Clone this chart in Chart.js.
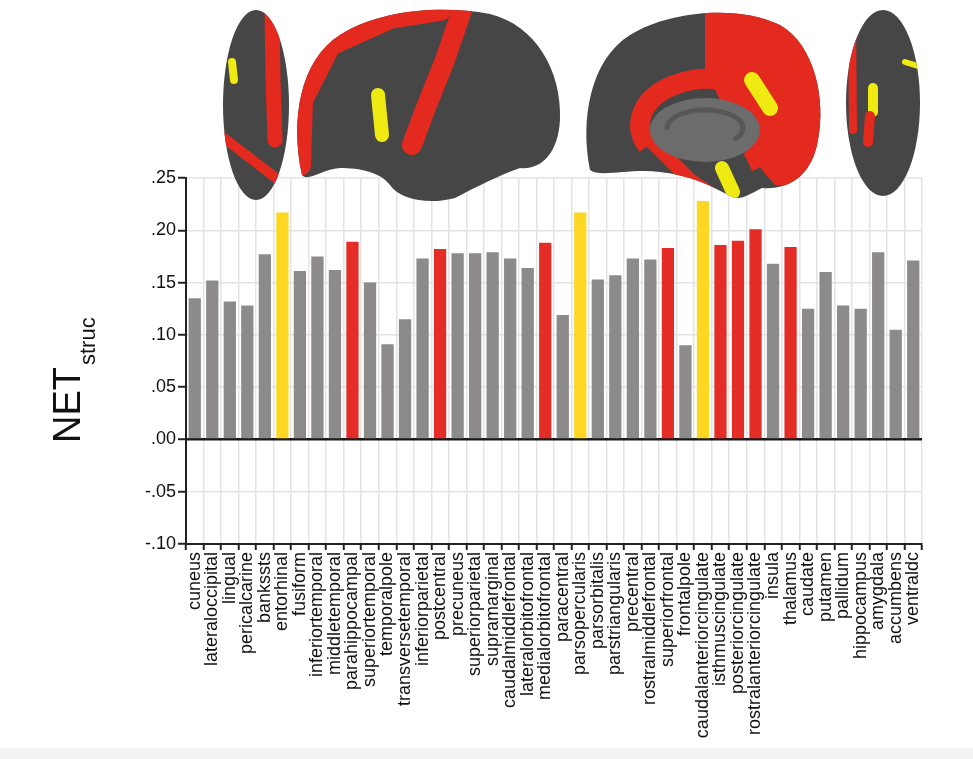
<!DOCTYPE html>
<html>
<head>
<meta charset="utf-8">
<script src="https://cdn.jsdelivr.net/npm/chart.js@4"></script>
<style>
  html, body { margin: 0; padding: 0; background: #fff; }
  #wrap { position: relative; width: 973px; height: 759px; }
  #strip { position: absolute; left: 0; bottom: 0; width: 973px; height: 11px; background: #f3f3f3; }
</style>
</head>
<body>
<div id="wrap">
  <canvas id="netChart" width="973" height="759"></canvas>
  <div id="strip"></div>
</div>
<script>
// regions, in the order of the figure
const regions = [
  'cuneus', 'lateraloccipital', 'lingual', 'pericalcarine', 'bankssts', 'entorhinal',
  'fusiform', 'inferiortemporal', 'middletemporal', 'parahippocampal', 'superiortemporal',
  'temporalpole', 'transversetemporal', 'inferiorparietal', 'postcentral', 'precuneus',
  'superiorparietal', 'supramarginal', 'caudalmiddlefrontal', 'lateralorbitofrontal',
  'medialorbitofrontal', 'paracentral', 'parsopercularis', 'parsorbitalis', 'parstriangularis',
  'precentral', 'rostralmiddlefrontal', 'superiorfrontal', 'frontalpole',
  'caudalanteriorcingulate', 'isthmuscingulate', 'posteriorcingulate',
  'rostralanteriorcingulate', 'insula', 'thalamus', 'caudate', 'putamen', 'pallidum',
  'hippocampus', 'amygdala', 'accumbens', 'ventraldc'
];

// NET_struc per region
const netValues = [
  0.135, 0.152, 0.132, 0.128, 0.177, 0.217,
  0.161, 0.175, 0.162, 0.189, 0.150,
  0.091, 0.115, 0.173, 0.182, 0.178,
  0.178, 0.179, 0.173, 0.164,
  0.188, 0.119, 0.217, 0.153, 0.157,
  0.173, 0.172, 0.183, 0.090,
  0.228, 0.186, 0.190,
  0.201, 0.168, 0.184, 0.125, 0.160, 0.128,
  0.125, 0.179, 0.105, 0.171
];

// highlight group: g = grey, r = red, y = yellow
const groups = [
  'g', 'g', 'g', 'g', 'g', 'y',
  'g', 'g', 'g', 'r', 'g',
  'g', 'g', 'g', 'r', 'g',
  'g', 'g', 'g', 'g',
  'r', 'g', 'y', 'g', 'g',
  'g', 'g', 'r', 'g',
  'y', 'r', 'r',
  'r', 'g', 'r', 'g', 'g', 'g',
  'g', 'g', 'g', 'g'
];

const yTicks = [-0.10, -0.05, 0.00, 0.05, 0.10, 0.15, 0.20, 0.25];

const groupColors = { g: '#8c8a8a', r: '#e52d27', y: '#fdd722' };

const fontFamily = '"Liberation Sans", Arial, sans-serif';

// y axis title, drawn rotated like the figure
const titlePlugin = {
  id: 'netTitle',
  afterDraw(chart) {
    const ctx = chart.ctx;
    ctx.save();
    ctx.translate(80, 443);
    ctx.rotate(-Math.PI / 2);
    ctx.fillStyle = '#111';
    ctx.textBaseline = 'alphabetic';
    ctx.font = '38px ' + fontFamily;
    ctx.fillText('NET', 0, 0);
    const w = ctx.measureText('NET').width;
    ctx.font = '22px ' + fontFamily;
    ctx.fillText('struc', w + 2, 15);
    ctx.restore();
  }
};

// rough brain renderings above the plot
function brainShape(ctx, kind) {
  ctx.beginPath();
  if (kind === 'top') {
    ctx.ellipse(256, 105, 33, 95, 0, 0, Math.PI * 2);
  } else if (kind === 'back') {
    ctx.ellipse(883, 103, 37, 93, 0, 0, Math.PI * 2);
  } else if (kind === 'lateral') {
    ctx.moveTo(302, 175);
    ctx.bezierCurveTo(290, 120, 300, 60, 340, 35);
    ctx.bezierCurveTo(380, 10, 440, 5, 490, 14);
    ctx.bezierCurveTo(535, 25, 562, 70, 560, 120);
    ctx.bezierCurveTo(558, 155, 540, 170, 520, 168);
    ctx.bezierCurveTo(500, 175, 480, 185, 455, 198);
    ctx.bezierCurveTo(430, 205, 400, 200, 390, 185);
    ctx.bezierCurveTo(380, 172, 360, 168, 340, 168);
    ctx.bezierCurveTo(320, 170, 308, 182, 302, 175);
    ctx.closePath();
  } else {
    ctx.moveTo(590, 170);
    ctx.bezierCurveTo(580, 120, 590, 60, 630, 35);
    ctx.bezierCurveTo(670, 10, 740, 5, 780, 25);
    ctx.bezierCurveTo(815, 45, 826, 100, 818, 140);
    ctx.bezierCurveTo(812, 175, 790, 190, 762, 188);
    ctx.bezierCurveTo(748, 195, 742, 200, 732, 197);
    ctx.bezierCurveTo(712, 186, 690, 175, 660, 172);
    ctx.bezierCurveTo(630, 168, 600, 178, 590, 170);
    ctx.closePath();
  }
}

function band(ctx, color, width, pts) {
  ctx.beginPath();
  ctx.moveTo(pts[0][0], pts[0][1]);
  for (let i = 1; i < pts.length; i++) ctx.lineTo(pts[i][0], pts[i][1]);
  ctx.strokeStyle = color;
  ctx.lineWidth = width;
  ctx.lineCap = 'round';
  ctx.lineJoin = 'round';
  ctx.stroke();
}

const brainPlugin = {
  id: 'brains',
  afterDraw(chart) {
    const ctx = chart.ctx;
    const dark = '#464646', red = '#e4291f', yel = '#eeea12';

    // top view
    ctx.save();
    brainShape(ctx, 'top');
    ctx.fillStyle = dark; ctx.fill(); ctx.clip();
    band(ctx, red, 15, [[272, 12], [273, 80], [275, 140]]);
    band(ctx, red, 10, [[220, 135], [250, 158], [285, 185]]);
    band(ctx, yel, 8, [[232, 62], [234, 80]]);
    ctx.restore();

    // lateral view
    ctx.save();
    brainShape(ctx, 'lateral');
    ctx.fillStyle = dark; ctx.fill(); ctx.clip();
    band(ctx, red, 22, [[300, 165], [302, 100], [330, 45], [390, 18], [440, 10]]);
    band(ctx, red, 20, [[462, 10], [445, 60], [425, 110], [412, 145]]);
    band(ctx, yel, 14, [[378, 95], [382, 135]]);
    ctx.restore();

    // medial view
    ctx.save();
    brainShape(ctx, 'medial');
    ctx.fillStyle = dark; ctx.fill(); ctx.clip();
    ctx.beginPath();
    ctx.moveTo(705, 0); ctx.lineTo(840, 0); ctx.lineTo(840, 190);
    ctx.lineTo(775, 185); ctx.lineTo(745, 150); ctx.lineTo(705, 70);
    ctx.closePath();
    ctx.fillStyle = red; ctx.fill();
    ctx.beginPath();
    ctx.ellipse(708, 125, 68, 46, 0, Math.PI * 0.85, Math.PI * 2.3);
    ctx.strokeStyle = red; ctx.lineWidth = 20; ctx.stroke();
    band(ctx, red, 14, [[650, 140], [690, 180], [720, 200]]);
    ctx.beginPath();
    ctx.ellipse(705, 130, 55, 32, 0, 0, Math.PI * 2);
    ctx.fillStyle = '#6c6c6c'; ctx.fill();
    ctx.beginPath();
    ctx.ellipse(705, 128, 38, 18, 0, Math.PI, Math.PI * 2.2);
    ctx.strokeStyle = '#575757'; ctx.lineWidth = 5; ctx.stroke();
    band(ctx, yel, 16, [[752, 80], [770, 108]]);
    band(ctx, yel, 14, [[722, 168], [733, 192]]);
    ctx.restore();

    // back view
    ctx.save();
    brainShape(ctx, 'back');
    ctx.fillStyle = dark; ctx.fill(); ctx.clip();
    band(ctx, red, 8, [[852, 15], [853, 130]]);
    band(ctx, yel, 10, [[873, 88], [873, 112]]);
    band(ctx, red, 10, [[870, 116], [868, 142]]);
    band(ctx, yel, 6, [[905, 62], [918, 66]]);
    ctx.restore();
  }
};

const ctx = document.getElementById('netChart').getContext('2d');

const netChart = new Chart(ctx, {
  type: 'bar',
  data: {
    labels: regions,
    datasets: [{
      label: 'NET struc',
      data: netValues,
      backgroundColor: groups.map(g => groupColors[g]),
      borderWidth: 0,
      barPercentage: 0.7,
      categoryPercentage: 1.0
    }]
  },
  options: {
    responsive: false,
    animation: false,
    layout: { padding: { top: 178, right: 51, left: 0, bottom: 0 } },
    plugins: {
      legend: { display: false },
      tooltip: { enabled: false }
    },
    scales: {
      x: {
        offset: true,
        afterFit: scale => { scale.height = 215; },
        grid: {
          offset: true,
          color: '#e4e4e4',
          lineWidth: 1.5,
          tickColor: '#222',
          tickWidth: 2,
          tickLength: 6
        },
        border: { color: '#222', width: 2 },
        ticks: {
          autoSkip: false,
          maxRotation: 90,
          minRotation: 90,
          padding: 2,
          color: '#111',
          font: { family: fontFamily, size: 18 }
        }
      },
      y: {
        min: -0.10,
        max: 0.25,
        afterFit: scale => { scale.width = 186; },
        afterBuildTicks: scale => { scale.ticks = yTicks.map(v => ({ value: v })); },
        grid: {
          color: c => (c.tick && Math.abs(c.tick.value) < 1e-9 ? '#1a1a1a' : '#e4e4e4'),
          lineWidth: c => (c.tick && Math.abs(c.tick.value) < 1e-9 ? 2.5 : 1.5),
          tickColor: '#222',
          tickWidth: 2,
          tickLength: 8
        },
        border: { color: '#222', width: 2 },
        ticks: {
          padding: 2,
          color: '#111',
          font: { family: fontFamily, size: 18 },
          callback: v => {
            const s = Math.abs(v).toFixed(2).replace(/^0/, '');
            return (v < -1e-9 ? '-' : '') + s;
          }
        }
      }
    }
  },
  plugins: [titlePlugin, brainPlugin]
});
</script>
</body>
</html>
